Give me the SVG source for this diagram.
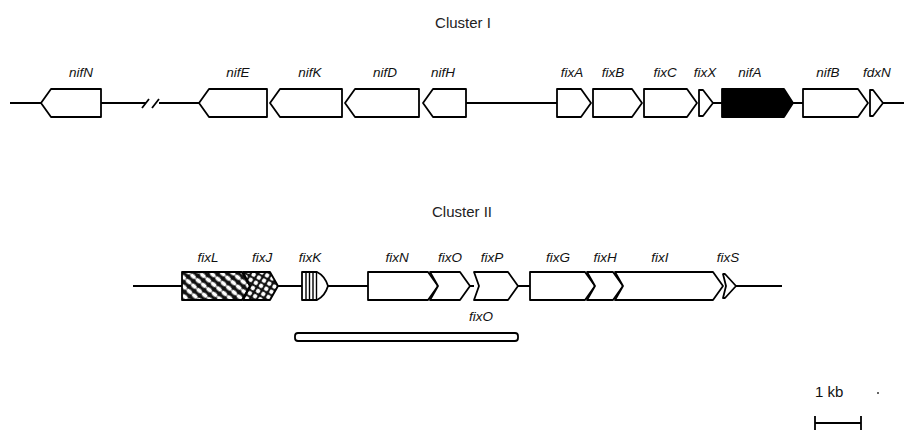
<svg xmlns="http://www.w3.org/2000/svg" width="905" height="438" viewBox="0 0 905 438">
<defs>
<pattern id="hatchL" width="7" height="7" patternUnits="userSpaceOnUse" patternTransform="rotate(40)">
<rect width="7" height="7" fill="#111"/>
<ellipse cx="3.5" cy="3.5" rx="3.3" ry="2" fill="#fff"/>
</pattern>
<pattern id="dotJ" width="6" height="6" patternUnits="userSpaceOnUse" patternTransform="rotate(30)">
<rect width="6" height="6" fill="#111"/>
<circle cx="3" cy="3" r="2.2" fill="#fff"/>
</pattern>
</defs>
<style>
.g{fill:#fff;stroke:#000;stroke-width:1.8;stroke-linejoin:round}
.bk{fill:none;stroke:#000;stroke-width:1.8}
.lab{font-family:"Liberation Sans",Arial,sans-serif;font-style:italic;font-size:13.5px;fill:#111;text-anchor:middle}
.ttl{font-family:"Liberation Sans",Arial,sans-serif;font-size:15px;fill:#222;text-anchor:middle}
</style>
<rect width="905" height="438" fill="#fff"/>
<text class="ttl" x="463" y="28">Cluster I</text>
<text class="ttl" x="462" y="217">Cluster II</text>

<g id="connectors">
<path class="bk" d="M10,103H41 M101,103H146 M159,103H199 M466,103H557 M713,103H722 M793,103H803 M883,103H904"/>
<path class="bk" d="M142,108L149,99 M152,108L159,99"/>
<path class="bk" d="M133,286H182 M278,286H302 M328,286H368 M470,286H474 M518,286H530 M736,286H782"/>
</g>

<g id="nifN"><path class="g" d="M41,103L51,89H101V117H51Z"/><text class="lab" x="81" y="77">nifN</text></g>
<g id="nifE"><path class="g" d="M199,103L209,89H267V117H209Z"/><text class="lab" x="238" y="77">nifE</text></g>
<g id="nifK"><path class="g" d="M270,103L280,89H342V117H280Z"/><text class="lab" x="310" y="77">nifK</text></g>
<g id="nifD"><path class="g" d="M345,103L355,89H419V117H355Z"/><text class="lab" x="385" y="77">nifD</text></g>
<g id="nifH"><path class="g" d="M423,103L433,89H466V117H433Z"/><text class="lab" x="443" y="77">nifH</text></g>
<g id="fixA"><path class="g" d="M557,89H581L591,103L581,117H557Z"/><text class="lab" x="572" y="77">fixA</text></g>
<g id="fixB"><path class="g" d="M593,89H632L642,103L632,117H593Z"/><text class="lab" x="613" y="77">fixB</text></g>
<g id="fixC"><path class="g" d="M644,89H687L697,103L687,117H644Z"/><text class="lab" x="665" y="77">fixC</text></g>
<g id="fixX"><path class="g" d="M699,90H703L713,103L703,116H699Z"/><text class="lab" x="705" y="77">fixX</text></g>
<g id="nifA"><path class="g" style="fill:#000" d="M722,89H784L793,103L784,117H722Z"/><text class="lab" x="750" y="77">nifA</text></g>
<g id="nifB"><path class="g" d="M803,89H858L868,103L858,117H803Z"/><text class="lab" x="828" y="77">nifB</text></g>
<g id="fdxN"><path class="g" d="M870,90H873L883,103L873,116H870Z"/><text class="lab" x="877" y="77">fdxN</text></g>

<g id="fixL"><path class="g" style="fill:url(#hatchL)" d="M182,272H242L250,286L242,300H182Z"/><text class="lab" x="208" y="262">fixL</text></g>
<g id="fixJ"><path class="g" style="fill:url(#dotJ)" d="M243,272H270L278,286L270,300H243L250,286Z"/><text class="lab" x="262" y="262">fixJ</text></g>
<g id="fixK"><path class="g" d="M302,272H317Q325,276 328,286Q325,296 317,300H302Z"/><path class="bk" style="stroke-width:1.4" d="M306,272V300M309.5,272V300M313,272V300M316.5,272V300"/><text class="lab" x="310" y="262">fixK</text></g>
<g id="fixN"><path class="g" d="M368,272H428L438,286L428,300H368Z"/><text class="lab" x="397" y="262">fixN</text></g>
<g id="fixO"><path class="g" d="M430,272H460L470,286L460,300H430L438,286Z"/><text class="lab" x="450" y="262">fixO</text></g>
<g id="fixP"><path class="g" d="M474,272H508L518,286L508,300H474L479,286Z"/><text class="lab" x="492" y="262">fixP</text></g>
<g id="fixG"><path class="g" d="M530,272H585L595,286L585,300H530Z"/><text class="lab" x="558" y="262">fixG</text></g>
<g id="fixH"><path class="g" d="M587,272H613L623,286L613,300H587L595,286Z"/><text class="lab" x="605" y="262">fixH</text></g>
<g id="fixI"><path class="g" d="M615,272H713L723,286L713,300H615L623,286Z"/><text class="lab" x="660" y="262">fixI</text></g>
<g id="fixS"><path class="g" d="M723,274H725L736,286L725,298H723L726,286Z"/><text class="lab" x="728" y="262">fixS</text></g>

<g id="fixO-bar"><rect class="g" x="295" y="333" width="223" height="8" rx="3"/><text class="lab" x="481" y="321">fixO</text></g>

<g id="scale">
<text x="815" y="397" style="font-family:'Liberation Sans',Arial,sans-serif;font-size:15px;fill:#111">1 kb</text>
<circle cx="878" cy="393" r="1" fill="#333"/>
<path class="bk" d="M815,423H861M815,416V430M861,416V430"/>
</g>
</svg>
